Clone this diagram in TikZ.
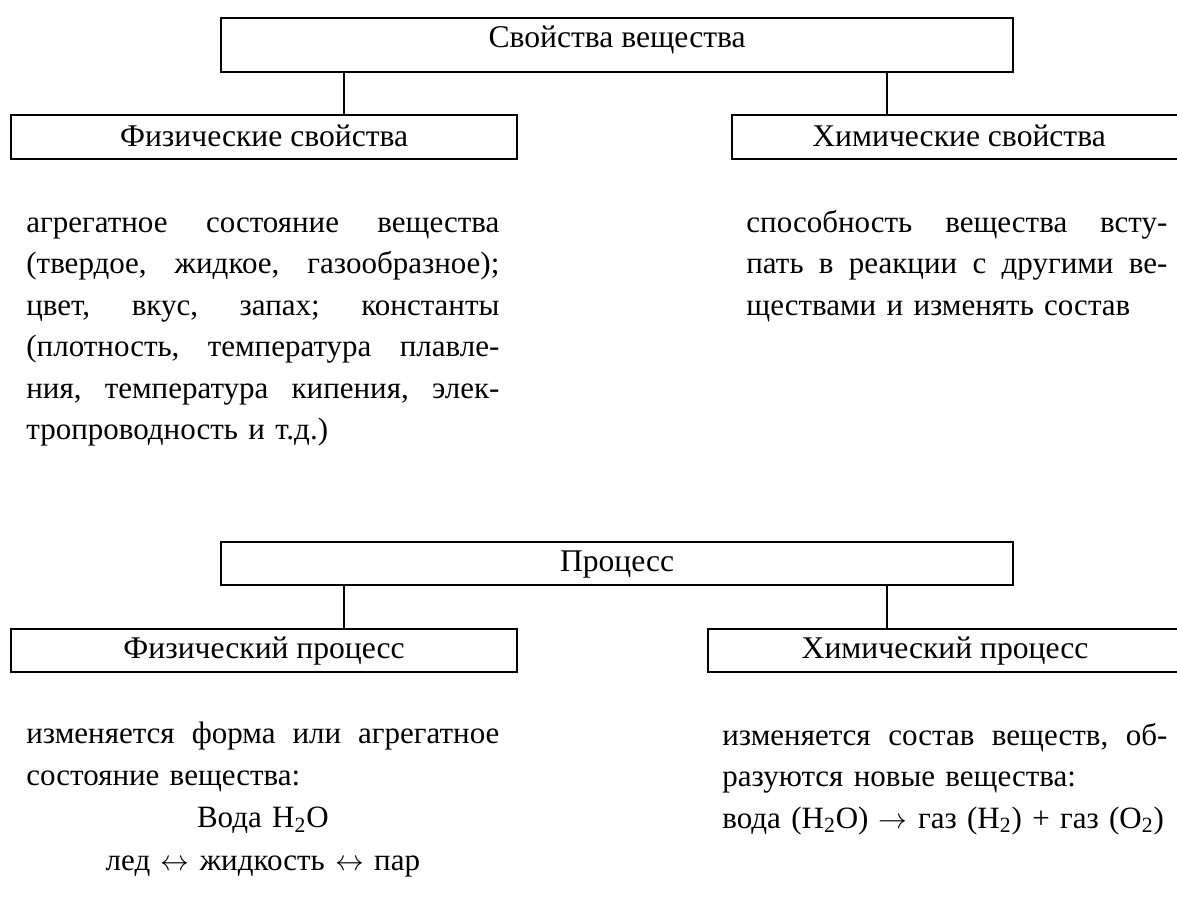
\documentclass[tikz,border=0pt]{standalone}
\usepackage{fontspec}
\setmainfont{Liberation Serif}
\newcommand{\jl}[2]{\leavevmode\hbox to #1{#2}}
\newcommand{\cl}[2]{\leavevmode\hbox to #1{\hfil #2\hfil}}
\newlength{\colL}\setlength{\colL}{236.5pt}
\newlength{\colR}\setlength{\colR}{210.5pt}
\newlength{\colRb}\setlength{\colRb}{222.5pt}
\tikzset{
  boxfont/.style={font=\fontsize{15.8}{20.75}\selectfont},
  box/.style={boxfont, draw, line width=1.1pt, inner sep=0pt, anchor=north west, text depth=0pt},
  para/.style={font=\fontsize{15.5}{20.75}\selectfont, inner sep=0pt, anchor=base west, align=left},
  parab/.style={para, font=\fontsize{15.5}{21.2}\selectfont},
  link/.style={line width=1.1pt}
}
\begin{document}
\begin{tikzpicture}[x=0.5pt, y=-0.5pt]
\useasboundingbox (0,0) rectangle (1177,920);
\clip (0,0) rectangle (1177,920);
\fill[white] (0,0) rectangle (1177,920);

% ---------- group 1 ----------
\node[box, minimum width=396pt, minimum height=27pt, text height=2pt] (prop) at (220,17) {Свойства вещества};
\node[box, minimum width=253pt, minimum height=22pt, text height=9pt] (phys) at (10,114) {Физические свойства};
\node[box, minimum width=227pt, minimum height=22pt, text height=9pt] (chem) at (731,114) {Химические свойства};
\coordinate (cl1) at (344,0);
\coordinate (cr1) at (887,0);
\draw[link] (prop.south -| cl1) -- (phys.north -| cl1);
\draw[link] (prop.south -| cr1) -- (chem.north -| cr1);

\node[para, text width=\colL] (physp) at (26,232) {%
\jl{\colL}{агрегатное\hfill состояние\hfill вещества}\\
\jl{\colL}{(твердое,\hfill жидкое,\hfill газообразное);}\\
\jl{\colL}{цвет,\hfill вкус,\hfill запах;\hfill константы}\\
\jl{\colL}{(плотность,\hfill температура\hfill плавле-}\\
\jl{\colL}{ния,\hfill температура\hfill кипения,\hfill элек-}\\
\mbox{тропроводность и т.д.)}};

\node[para, text width=\colR] (chemp) at (746,232) {%
\jl{\colR}{способность\hfill вещества\hfill всту-}\\
\jl{\colR}{пать\hfill в\hfill реакции\hfill с\hfill другими\hfill ве-}\\
\mbox{ществами и изменять состав}};

% ---------- group 2 ----------
\node[box, minimum width=396pt, minimum height=21.5pt, text height=7.5pt] (proc) at (220,541) {Процесс};
\node[box, minimum width=253pt, minimum height=21.5pt, text height=7.5pt] (physproc) at (10,628) {Физический процесс};
\node[box, minimum width=237pt, minimum height=21.5pt, text height=7.5pt] (chemproc) at (707,628) {Химический процесс};
\coordinate (cl2) at (344,0);
\coordinate (cr2) at (887,0);
\draw[link] (proc.south -| cl2) -- (physproc.north -| cl2);
\draw[link] (proc.south -| cr2) -- (chemproc.north -| cr2);

\node[parab, text width=\colL] (physprocp) at (26,743) {%
\jl{\colL}{изменяется\hfill форма\hfill или\hfill агрегатное}\\
\mbox{состояние вещества:}\\
\cl{\colL}{Вода H\textsubscript{2}O}\\
\cl{\colL}{лед $\leftrightarrow$ жидкость $\leftrightarrow$ пар}};

\node[para, text width=\colRb] (chemprocp) at (722,745) {%
\jl{\colRb}{изменяется\hfill состав\hfill веществ,\hfill об-}\\
\mbox{разуются новые вещества:}\\
\mbox{вода (H\textsubscript{2}O) $\rightarrow$ газ (H\textsubscript{2}) + газ (O\textsubscript{2})}};
\end{tikzpicture}
\end{document}
